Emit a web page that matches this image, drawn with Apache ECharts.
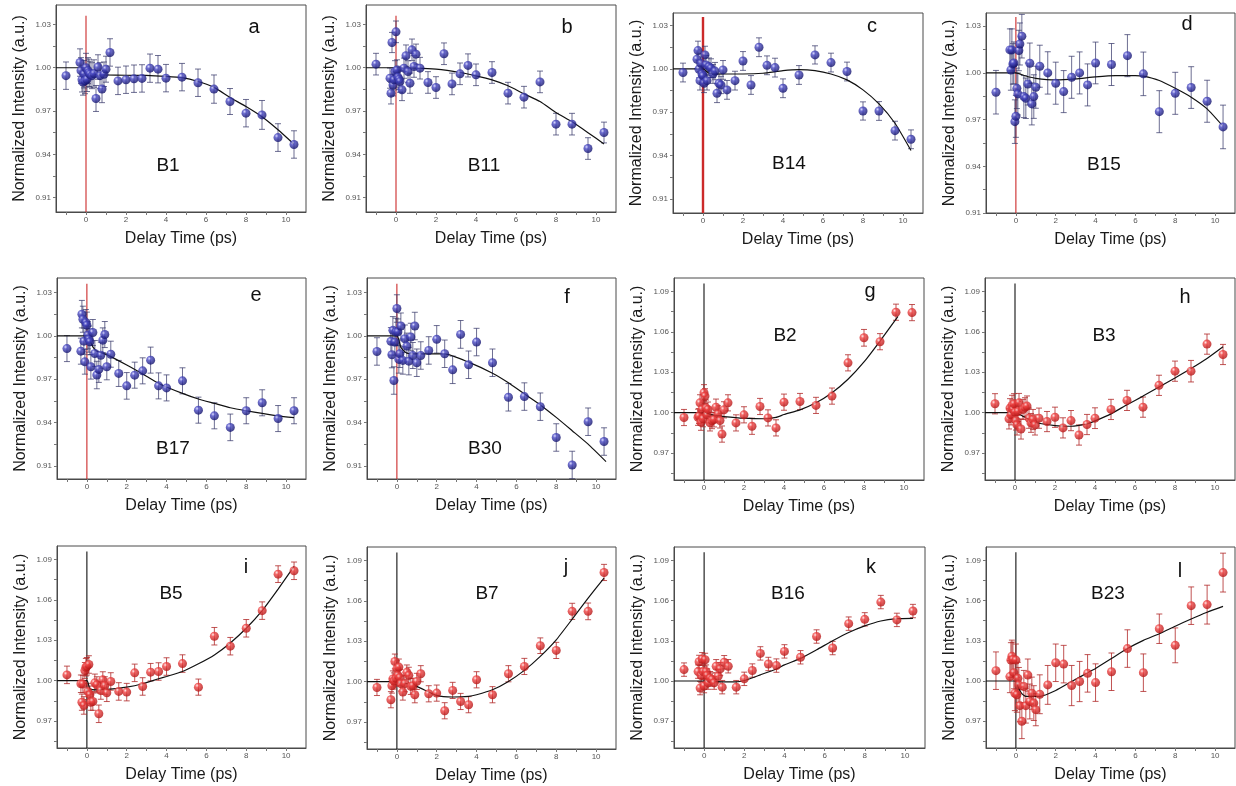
<!DOCTYPE html>
<html>
<head>
<meta charset="utf-8">
<script src="https://cdn.jsdelivr.net/npm/echarts@6/dist/echarts.min.js"></script>
<style>
  html, body { margin: 0; padding: 0; background: #fff; }
  #c { width: 1236px; height: 786px; }
</style>
</head>
<body>
<div id="c"></div>
<script>
// Pump-probe delay times (ps), shared by all panels
const delay = [-1.0, -0.3, -0.25, -0.2, -0.15, -0.1, -0.05, 0, 0.05, 0.1, 0.15, 0.2, 0.3, 0.4, 0.5, 0.6, 0.7, 0.8, 0.9, 1.0,
  1.2, 1.6, 2.0, 2.4, 2.8, 3.2, 3.6, 4.0, 4.8, 5.6, 6.4, 7.2, 8.0, 8.8, 9.6, 10.4];

// Tick positions
const xTickValues = [-1, 0, 1, 2, 3, 4, 5, 6, 7, 8, 9, 10];
const xLabelValues = [0, 2, 4, 6, 8, 10];
const yTicksLow = [0.91, 0.925, 0.94, 0.955, 0.97, 0.985, 1.00, 1.015, 1.03];
const yLabelsLow = [0.91, 0.94, 0.97, 1.00, 1.03];
const yTicksHigh = [0.955, 0.97, 0.985, 1.00, 1.015, 1.03, 1.045, 1.06, 1.075, 1.09];
const yLabelsHigh = [0.97, 1.00, 1.03, 1.06, 1.09];

// Normalized intensities, error bars and fitted curves per Bragg peak
const b1 = [0.9945, 1.0036, 0.998, 0.9917, 0.990, 0.9955, 0.991, 1.000, 0.992, 0.998, 0.9965, 0.9955, 0.9945, 0.996, 0.9787, 1.0005, 0.9945, 0.9853, 0.9955, 0.999,
  1.0106, 0.9909, 0.9917, 0.9924, 0.9926, 0.9997, 0.999, 0.9928, 0.9935, 0.9896, 0.9852, 0.9766, 0.9685, 0.9673, 0.9516, 0.9468];
const b1Err = [0.0095, 0.0095, 0.009, 0.0085, 0.009, 0.0095, 0.009, 0.01, 0.0085, 0.009, 0.0095, 0.009, 0.009, 0.0095, 0.009, 0.0085, 0.009, 0.0095, 0.0085, 0.009,
  0.0095, 0.0095, 0.0095, 0.0095, 0.0095, 0.0098, 0.0095, 0.0095, 0.0095, 0.0095, 0.0098, 0.009, 0.0095, 0.01, 0.0096, 0.0095];
const b1Fit = [[-1.5, 1.0], [0, 1.0], [0.15, 0.997], [0.4, 0.9955], [1, 0.995], [2, 0.9948], [3, 0.9947], [4, 0.994], [4.8, 0.9931], [5.6, 0.9905], [6.4, 0.9864], [7.2, 0.9794], [8.0, 0.9731], [8.8, 0.966], [9.6, 0.957], [10.4, 0.947]];

const b11 = [1.0025, 0.9928, 0.9824, 1.0175, 0.988, 0.9916, 0.9974, 1.0249, 0.9985, 0.9935, 0.992, 0.9905, 0.9847, 0.9997, 1.0083, 0.9974, 0.9893, 1.0124, 1.0009, 1.0094,
  0.9997, 0.9898, 0.9863, 1.0097, 0.9888, 0.9958, 1.0016, 0.9951, 0.9967, 0.9824, 0.9796, 0.9902, 0.9609, 0.9609, 0.944, 0.9551];
const b11Err = [0.0075, 0.007, 0.0075, 0.007, 0.0075, 0.007, 0.0075, 0.0075, 0.007, 0.0075, 0.007, 0.0075, 0.0075, 0.007, 0.0075, 0.0075, 0.007, 0.0075, 0.0075, 0.007,
  0.0075, 0.0075, 0.0075, 0.0075, 0.0075, 0.0075, 0.008, 0.0075, 0.0075, 0.0075, 0.0075, 0.0075, 0.0075, 0.0075, 0.0075, 0.0072];
const b11Fit = [[-1.5, 1.0], [0, 1.0], [1, 0.9998], [2, 0.999], [3.2, 0.9967], [4, 0.9944], [4.8, 0.9916], [5.6, 0.9875], [6.4, 0.9819], [7.2, 0.9766], [8.0, 0.969], [8.8, 0.9625], [9.6, 0.955], [10.4, 0.9472]];

const b14 = [0.9975, 1.0067, 1.0127, 0.9998, 0.9919, 1.0039, 0.9965, 0.9952, 0.9901, 1.0097, 1.0028, 0.9919, 1.0016, 1.0005, 0.9965, 0.9985, 0.9832, 0.99, 0.9889, 0.9993,
  0.9855, 0.9919, 1.0055, 0.9889, 1.015, 1.0025, 1.0009, 0.9866, 0.9958, 1.0097, 1.0044, 0.9982, 0.9709, 0.9709, 0.9573, 0.9513];
const b14Err = [0.0065, 0.0065, 0.0065, 0.006, 0.0065, 0.0065, 0.006, 0.0065, 0.0065, 0.006, 0.0065, 0.0065, 0.006, 0.0065, 0.0065, 0.006, 0.0065, 0.0065, 0.006, 0.0065,
  0.0065, 0.0065, 0.0065, 0.0065, 0.0065, 0.0065, 0.0065, 0.0065, 0.0065, 0.0063, 0.0065, 0.0065, 0.0063, 0.0065, 0.0065, 0.0065];
const b14Fit = [[-1.5, 1.0], [0, 1.0], [0.3, 0.997], [1, 0.9965], [2, 0.9965], [3, 0.997], [4, 0.9988], [4.8, 0.9995], [5.6, 0.9988], [6.4, 0.9965], [7.2, 0.9924], [8.0, 0.9855], [8.8, 0.9758], [9.6, 0.9624], [10.4, 0.9435]];

const b15 = [0.9876, 1.0148, 1.0019, 1.0148, 1.0058, 1.0064, 0.9687, 0.9721, 0.9901, 0.9865, 1.0144, 1.0186, 1.0236, 0.9848, 0.9837, 0.9929, 1.0062, 0.9801, 0.9848, 0.9908,
  1.0043, 1.0, 0.9934, 0.988, 0.9972, 1.0, 0.9923, 1.0064, 1.0054, 1.0111, 0.9994, 0.9751, 0.9869, 0.9906, 0.9818, 0.9653];
const b15Err = [0.014, 0.0135, 0.013, 0.0135, 0.013, 0.0135, 0.014, 0.0135, 0.013, 0.0135, 0.013, 0.0135, 0.014, 0.0135, 0.013, 0.0135, 0.013, 0.0135, 0.014, 0.0135,
  0.0135, 0.0136, 0.0135, 0.0135, 0.0135, 0.0135, 0.0135, 0.0134, 0.0135, 0.0135, 0.014, 0.0135, 0.0135, 0.0134, 0.0135, 0.014];
const b15Fit = [[-1.5, 1.0], [0, 1.0], [0.5, 0.998], [1, 0.9965], [2, 0.9955], [3, 0.9962], [4, 0.9975], [5, 0.9983], [6, 0.9983], [6.4, 0.9979], [7.2, 0.9951], [8.0, 0.9901], [8.8, 0.9844], [9.6, 0.9769], [10.4, 0.9657]];

const b17 = [0.9912, 0.9894, 1.015, 1.0115, 0.9963, 0.982, 1.0092, 1.0074, 1.0005, 0.9977, 0.9959, 0.9786, 1.0023, 0.9878, 0.9729, 0.9768, 0.9866, 0.997, 1.0009, 0.9786,
  0.9873, 0.974, 0.9654, 0.9728, 0.9758, 0.9832, 0.9654, 0.964, 0.9689, 0.9486, 0.9447, 0.9367, 0.9482, 0.9537, 0.9428, 0.9482];
const b17Err = [0.009, 0.009, 0.0095, 0.009, 0.009, 0.0085, 0.009, 0.009, 0.0095, 0.009, 0.009, 0.0085, 0.009, 0.009, 0.0095, 0.009, 0.009, 0.0085, 0.009, 0.009,
  0.009, 0.009, 0.0092, 0.009, 0.009, 0.009, 0.009, 0.009, 0.009, 0.009, 0.009, 0.0092, 0.009, 0.009, 0.009, 0.009];
const b17Fit = [[-1.5, 1.0], [0, 1.0], [0.1, 0.998], [0.3, 0.9924], [0.5, 0.9894], [1, 0.987], [2, 0.9798], [2.8, 0.9736], [3.6, 0.9671], [4.8, 0.9602], [5.6, 0.9563], [6.4, 0.9533], [7.2, 0.9503], [8.0, 0.9482], [8.8, 0.9464], [9.6, 0.9447], [10.4, 0.9434]];

const b30 = [0.9892, 0.9962, 0.9869, 1.0038, 0.9691, 0.9957, 1.0027, 1.0189, 1.0027, 0.9837, 0.9876, 1.0068, 0.983, 0.998, 0.9929, 0.9825, 0.9992, 0.9864, 1.0068, 0.9814,
  0.9864, 0.9899, 0.9976, 0.9876, 0.9765, 1.001, 0.98, 0.9957, 0.9814, 0.9575, 0.958, 0.951, 0.9297, 0.9107, 0.9406, 0.9269];
const b30Err = [0.0095, 0.0095, 0.009, 0.0095, 0.0095, 0.009, 0.0095, 0.0095, 0.009, 0.0095, 0.0095, 0.009, 0.0095, 0.0095, 0.009, 0.0095, 0.0095, 0.009, 0.0095, 0.0095,
  0.0095, 0.0095, 0.0095, 0.0095, 0.0095, 0.0096, 0.0095, 0.0095, 0.0095, 0.0095, 0.0095, 0.0095, 0.0095, 0.0095, 0.0095, 0.0095];
const b30Fit = [[-1.5, 1.0], [0, 1.0], [0.2, 0.992], [0.5, 0.988], [1, 0.9875], [2, 0.9875], [2.4, 0.9875], [3.6, 0.9818], [4.8, 0.9741], [5.6, 0.9675], [6.4, 0.9598], [7.2, 0.9522], [8.0, 0.9436], [8.8, 0.9344], [9.6, 0.9251], [10.5, 0.913]];

const b2 = [0.9964, 0.9966, 0.9975, 1.0073, 0.9929, 1.0024, 0.9955, 1.0148, 1.0123, 1.0034, 0.9984, 1.0024, 0.9924, 0.9941, 0.9949, 1.0041, 0.9991, 0.9941, 0.9841, 1.0021,
  1.0073, 0.9924, 0.9984, 0.9899, 1.0046, 0.9961, 0.9887, 1.0078, 1.0083, 1.0054, 1.0123, 1.037, 1.0556, 1.0527, 1.0746, 1.0743];
const b2Err = [0.006, 0.006, 0.0055, 0.006, 0.006, 0.0055, 0.006, 0.006, 0.0055, 0.006, 0.006, 0.0055, 0.006, 0.006, 0.0055, 0.006, 0.006, 0.0055, 0.006, 0.006,
  0.006, 0.006, 0.006, 0.006, 0.006, 0.006, 0.006, 0.006, 0.006, 0.006, 0.006, 0.006, 0.0062, 0.006, 0.006, 0.006];
const b2Fit = [[-1.5, 1.0], [0, 1.0], [0.5, 0.998], [1, 0.9971], [2, 0.9959], [3, 0.9955], [3.6, 0.9965], [4, 0.9986], [4.8, 1.0021], [5.6, 1.0073], [6.4, 1.0148], [7.2, 1.0248], [8.0, 1.0377], [8.8, 1.0532], [9.7, 1.0715]];

const b3 = [1.0066, 0.9954, 1.0034, 0.9984, 1.0054, 1.0024, 1.0066, 1.0004, 0.9941, 0.9909, 1.0009, 1.0073, 0.9879, 1.0024, 1.0041, 1.0049, 0.9959, 0.9924, 0.9949, 0.9909,
  0.9959, 0.9934, 0.9966, 0.9887, 0.9941, 0.9834, 0.9912, 0.9959, 1.0024, 1.0091, 1.0041, 1.0203, 1.0308, 1.0308, 1.0509, 1.0432];
const b3Err = [0.0075, 0.0075, 0.007, 0.0075, 0.0075, 0.007, 0.0075, 0.0075, 0.007, 0.0075, 0.0075, 0.007, 0.0075, 0.0075, 0.007, 0.0075, 0.0075, 0.007, 0.0075, 0.0075,
  0.0075, 0.0075, 0.0075, 0.0075, 0.0075, 0.0075, 0.0075, 0.0077, 0.0075, 0.0075, 0.0075, 0.0075, 0.0075, 0.008, 0.0075, 0.0075];
const b3Fit = [[-1.5, 1.0], [0, 1.0], [0.5, 0.9966], [1, 0.9929], [2, 0.9904], [2.8, 0.9899], [3.6, 0.9917], [4, 0.9939], [4.8, 0.9991], [5.6, 1.0059], [6.4, 1.0123], [7.2, 1.0191], [8.0, 1.0258], [8.8, 1.0328], [9.6, 1.0403], [10.4, 1.049]];

const b5 = [1.0043, 0.9977, 0.984, 0.9975, 0.9816, 1.0075, 1.01, 1.0107, 0.992, 1.012, 0.9895, 0.984, 0.9845, 0.9984, 0.9969, 0.9754, 0.9927, 1.0006, 0.9964, 0.991,
  0.9994, 0.992, 0.9915, 1.0058, 0.9957, 1.0063, 1.0068, 1.0105, 1.0127, 0.9952, 1.033, 1.0256, 1.0389, 1.052, 1.0791, 1.0816];
const b5Err = [0.0065, 0.0065, 0.006, 0.0065, 0.0065, 0.006, 0.0065, 0.0065, 0.006, 0.0065, 0.0065, 0.006, 0.0065, 0.0065, 0.006, 0.0065, 0.0065, 0.006, 0.0065, 0.0065,
  0.0065, 0.0065, 0.0065, 0.0065, 0.0065, 0.0065, 0.0065, 0.0065, 0.0065, 0.006, 0.0065, 0.0065, 0.0065, 0.0065, 0.0062, 0.0065];
const b5Fit = [[-1.5, 1.0], [0, 1.0], [0.15, 0.994], [0.5, 0.9932], [1, 0.9935], [2, 0.9952], [2.8, 0.9977], [3.6, 1.0014], [4, 1.0031], [4.8, 1.0068], [5.6, 1.0125], [6.4, 1.0191], [7.2, 1.028], [8.0, 1.0389], [8.8, 1.052], [9.6, 1.068], [10.4, 1.0848]];

const b7 = [0.9957, 0.9866, 0.997, 1.002, 1.0005, 1.015, 1.0027, 1.0096, 1.0047, 1.0108, 1.003, 0.9985, 0.9923, 0.9985, 1.0069, 1.0047, 0.9965, 0.997, 0.9903, 1.0002,
  1.0059, 0.991, 0.9915, 0.9784, 0.9935, 0.9853, 0.9829, 1.0014, 0.9903, 1.0059, 1.0113, 1.0267, 1.0232, 1.0522, 1.0522, 1.0811];
const b7Err = [0.006, 0.006, 0.0055, 0.006, 0.006, 0.0055, 0.006, 0.006, 0.0055, 0.006, 0.006, 0.0055, 0.006, 0.006, 0.0055, 0.006, 0.006, 0.0055, 0.006, 0.006,
  0.006, 0.006, 0.006, 0.006, 0.006, 0.006, 0.006, 0.006, 0.006, 0.006, 0.006, 0.0058, 0.006, 0.006, 0.0062, 0.006];
const b7Fit = [[-1.5, 1.0], [0, 1.0], [0.5, 0.9985], [1, 0.9965], [2, 0.9898], [2.8, 0.9886], [3.6, 0.9891], [4, 0.9903], [4.8, 0.994], [5.6, 1.0002], [6.4, 1.0084], [7.2, 1.0188], [8.0, 1.0311], [8.8, 1.0464], [9.6, 1.062], [10.4, 1.0769]];

const b16 = [1.0085, 1.007, 1.0144, 0.9947, 1.0041, 1.0164, 1.007, 0.9962, 1.0159, 1.007, 1.0041, 0.9986, 1.0021, 1.0011, 0.9986, 1.011, 1.0036, 1.009, 0.9954, 1.014,
  1.011, 0.9954, 1.0016, 1.0078, 1.0206, 1.0127, 1.0115, 1.0221, 1.0177, 1.0332, 1.0246, 1.0428, 1.046, 1.0589, 1.0456, 1.0522];
const b16Err = [0.005, 0.005, 0.0048, 0.005, 0.005, 0.0048, 0.005, 0.005, 0.0048, 0.005, 0.005, 0.0048, 0.005, 0.005, 0.0048, 0.005, 0.005, 0.0048, 0.005, 0.005,
  0.005, 0.005, 0.005, 0.005, 0.005, 0.005, 0.005, 0.005, 0.005, 0.005, 0.005, 0.005, 0.005, 0.005, 0.005, 0.005];
const b16Fit = [[-1.5, 1.0], [0, 1.0], [1, 0.9993], [1.6, 0.9993], [2, 1.0004], [2.8, 1.0046], [3.6, 1.009], [4, 1.012], [4.8, 1.0169], [5.6, 1.0233], [6.4, 1.03], [7.2, 1.0362], [8.0, 1.0411], [8.8, 1.0448], [9.6, 1.0465], [10.4, 1.0468]];

const b23 = [1.0077, 1.0033, 1.0156, 1.0185, 1.016, 1.0062, 0.9909, 1.0156, 0.9897, 1.002, 0.9971, 0.9816, 0.97, 0.9959, 0.9816, 1.0044, 0.9847, 0.9909, 0.9835, 0.9786,
  0.9901, 0.9971, 1.0136, 1.0126, 0.9966, 0.9996, 1.0057, 0.9988, 1.0069, 1.0242, 1.0062, 1.039, 1.0266, 1.0562, 1.057, 1.0809];
const b23Err = [0.014, 0.012, 0.013, 0.012, 0.013, 0.012, 0.013, 0.012, 0.013, 0.012, 0.013, 0.012, 0.013, 0.012, 0.013, 0.012, 0.013, 0.012, 0.013, 0.012,
  0.0145, 0.0145, 0.014, 0.014, 0.015, 0.015, 0.014, 0.014, 0.014, 0.014, 0.014, 0.011, 0.013, 0.014, 0.0145, 0.0145];
const b23Fit = [[-1.5, 1.0], [0, 1.0], [0.1, 0.9959], [0.3, 0.9905], [0.5, 0.9885], [1.2, 0.9885], [2, 0.9929], [2.8, 0.9996], [3.6, 1.0062], [4, 1.0094], [4.8, 1.0168], [5.6, 1.0242], [6.4, 1.0303], [7.2, 1.0353], [8.0, 1.0409], [8.8, 1.0463], [9.6, 1.0513], [10.4, 1.0557]];

// Upper end of the time-zero marker line for each family
const zeroLineTop = { blue: 1.036, red: 1.096 };

const panels = [
  { letter: 'a', name: 'B1',  y: b1,  err: b1Err,  fit: b1Fit,  tone: 'blue' },
  { letter: 'b', name: 'B11', y: b11, err: b11Err, fit: b11Fit, tone: 'blue' },
  { letter: 'c', name: 'B14', y: b14, err: b14Err, fit: b14Fit, tone: 'blue' },
  { letter: 'd', name: 'B15', y: b15, err: b15Err, fit: b15Fit, tone: 'blue' },
  { letter: 'e', name: 'B17', y: b17, err: b17Err, fit: b17Fit, tone: 'blue' },
  { letter: 'f', name: 'B30', y: b30, err: b30Err, fit: b30Fit, tone: 'blue' },
  { letter: 'g', name: 'B2',  y: b2,  err: b2Err,  fit: b2Fit,  tone: 'red' },
  { letter: 'h', name: 'B3',  y: b3,  err: b3Err,  fit: b3Fit,  tone: 'red' },
  { letter: 'i', name: 'B5',  y: b5,  err: b5Err,  fit: b5Fit,  tone: 'red' },
  { letter: 'j', name: 'B7',  y: b7,  err: b7Err,  fit: b7Fit,  tone: 'red' },
  { letter: 'k', name: 'B16', y: b16, err: b16Err, fit: b16Fit, tone: 'red' },
  { letter: 'l', name: 'B23', y: b23, err: b23Err, fit: b23Fit, tone: 'red' }
];

// Layout: plot boxes [left, top, width, height], y ranges and annotation anchors
const boxes = [
  [56, 5, 250, 207], [366, 5, 250, 207], [673, 13, 250, 200], [986, 13, 249, 200],
  [57, 278, 249, 201], [367, 278, 249, 201], [674, 278, 250, 202], [985, 278, 250, 202],
  [57, 546, 249, 202], [367, 547, 249, 202], [674, 547, 251, 201], [986, 547, 249, 201]
];
const yRanges = [
  [0.900, 1.0435], [0.900, 1.0435], [0.9003, 1.0387], [0.910, 1.0385],
  [0.901, 1.040], [0.901, 1.040], [0.950, 1.100], [0.950, 1.100],
  [0.950, 1.100], [0.950, 1.100], [0.950, 1.100], [0.950, 1.100]
];
const letterPos = [[254, 27], [567, 27], [872, 26], [1187, 24], [256, 295], [567, 297], [870, 291], [1185, 297], [246, 567], [566, 567], [871, 567], [1180, 571]];
const namePos = [[168, 166], [484, 166], [789, 164], [1104, 165], [173, 449], [485, 449], [785, 336], [1104, 336], [171, 594], [487, 594], [788, 594], [1108, 594]];

const FONT = 'Liberation Sans, Arial, Helvetica, sans-serif';
const tones = {
  blue: {
    ball: { type: 'radial', x: 0.35, y: 0.32, r: 0.72, colorStops: [
      { offset: 0, color: '#d0d0ff' }, { offset: 0.3, color: '#4a4ac4' }, { offset: 1, color: '#0e0e66' }] },
    bar: 'rgba(52,54,104,0.72)',
    zero: '#cc2a2a'
  },
  red: {
    ball: { type: 'radial', x: 0.35, y: 0.32, r: 0.72, colorStops: [
      { offset: 0, color: '#ffe2e2' }, { offset: 0.3, color: '#f04444' }, { offset: 1, color: '#b01212' }] },
    bar: 'rgba(176,40,40,0.8)',
    zero: '#111111'
  }
};

const grids = [], xAxes = [], yAxes = [], series = [], graphics = [];

panels.forEach((p, i) => {
  const [l, t, w, h] = boxes[i];
  const [ymin, ymax] = yRanges[i];
  const tone = tones[p.tone];
  const low = p.tone === 'blue';

  grids.push({ left: l, top: t, width: w, height: h, show: true, borderColor: '#4a4a4a', borderWidth: 1, backgroundColor: 'rgba(0,0,0,0)' });

  xAxes.push({
    gridIndex: i, type: 'value', min: -1.5, max: 11,
    name: 'Delay Time (ps)', nameLocation: 'middle', nameGap: 18.5,
    nameTextStyle: { fontSize: 16, color: '#1a1a1a', fontFamily: FONT },
    axisLine: { show: true, onZero: false, lineStyle: { color: '#4a4a4a', width: 1 } },
    axisTick: { show: true, inside: false, length: 3, customValues: xTickValues, lineStyle: { color: '#777' } },
    axisLabel: { customValues: xLabelValues, fontSize: 8, color: '#555', margin: 4, fontFamily: FONT },
    splitLine: { show: false }
  });

  yAxes.push({
    gridIndex: i, type: 'value', min: ymin, max: ymax,
    name: 'Normalized Intensity (a.u.)', nameLocation: 'middle', nameGap: 28, nameRotate: 90,
    nameTextStyle: { fontSize: 16, color: '#1a1a1a', fontFamily: FONT },
    axisLine: { show: true, onZero: false, lineStyle: { color: '#4a4a4a', width: 1 } },
    axisTick: { show: true, inside: false, length: 3, customValues: low ? yTicksLow : yTicksHigh, lineStyle: { color: '#777' } },
    axisLabel: { customValues: low ? yLabelsLow : yLabelsHigh, fontSize: 8, color: '#555', margin: 5, fontFamily: FONT,
      formatter: v => v.toFixed(2) },
    splitLine: { show: false }
  });

  // time-zero marker
  series.push({
    type: 'line', xAxisIndex: i, yAxisIndex: i, silent: true, symbol: 'none', z: 1,
    data: [[0, ymin], [0, zeroLineTop[p.tone]]],
    lineStyle: { color: tone.zero, width: i === 2 ? 2.4 : 1.1 }
  });

  // error bars
  series.push({
    type: 'custom', xAxisIndex: i, yAxisIndex: i, silent: true, z: 2, clip: true,
    data: p.y.map((v, k) => [delay[k], v, p.err[k]]),
    renderItem: (params, api) => {
      const x = api.value(0), y = api.value(1), e = api.value(2);
      const top = api.coord([x, y + e]);
      const bot = api.coord([x, y - e]);
      const cw = 3;
      const st = { stroke: tone.bar, lineWidth: 1 };
      return {
        type: 'group',
        children: [
          { type: 'line', shape: { x1: top[0], y1: top[1], x2: bot[0], y2: bot[1] }, style: st },
          { type: 'line', shape: { x1: top[0] - cw, y1: top[1], x2: top[0] + cw, y2: top[1] }, style: st },
          { type: 'line', shape: { x1: bot[0] - cw, y1: bot[1], x2: bot[0] + cw, y2: bot[1] }, style: st }
        ]
      };
    }
  });

  // fitted curve
  series.push({
    type: 'line', xAxisIndex: i, yAxisIndex: i, silent: true, symbol: 'none', z: 3,
    smooth: 0.18,
    data: p.fit,
    lineStyle: { color: '#111', width: 1.2 }
  });

  // measured points
  series.push({
    type: 'scatter', xAxisIndex: i, yAxisIndex: i, silent: true, z: 4,
    symbolSize: 9,
    data: p.y.map((v, k) => [delay[k], v]),
    itemStyle: { color: tone.ball }
  });

  graphics.push({
    type: 'text', x: letterPos[i][0], y: letterPos[i][1], z: 10,
    style: { text: p.letter, font: '20px ' + FONT, fill: '#111', align: 'center', verticalAlign: 'middle' }
  });
  graphics.push({
    type: 'text', x: namePos[i][0], y: namePos[i][1], z: 10,
    style: { text: p.name, font: '19px ' + FONT, fill: '#111', align: 'center', verticalAlign: 'middle' }
  });
});

const chart = echarts.init(document.getElementById('c'), null, { renderer: 'canvas' });
chart.setOption({
  animation: false,
  backgroundColor: '#fff',
  grid: grids,
  xAxis: xAxes,
  yAxis: yAxes,
  series: series,
  graphic: graphics
});
</script>
</body>
</html>
